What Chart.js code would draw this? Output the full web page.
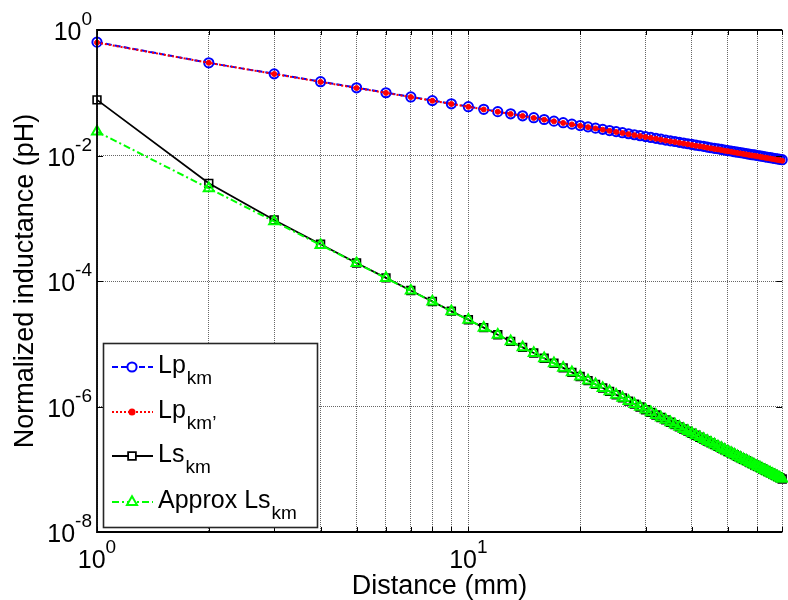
<!DOCTYPE html>
<html>
<head>
<meta charset="utf-8">
<script src="https://cdn.jsdelivr.net/npm/chart.js@4/dist/chart.umd.min.js"></script>
<style>
  html, body { margin: 0; padding: 0; background: #fff; overflow: hidden; }
  #wrap { width: 788px; height: 600px; overflow: hidden; }
</style>
</head>
<body>
<div id="wrap"><canvas id="chart" width="790" height="600"></canvas></div>
<script>
// distance in mm
const distances = [
  1, 2, 3, 4, 5, 6, 7, 8, 9, 10,
  11, 12, 13, 14, 15, 16, 17, 18, 19, 20,
  21, 22, 23, 24, 25, 26, 27, 28, 29, 30,
  31, 32, 33, 34, 35, 36, 37, 38, 39, 40,
  41, 42, 43, 44, 45, 46, 47, 48, 49, 50,
  51, 52, 53, 54, 55, 56, 57, 58, 59, 60,
  61, 62, 63, 64, 65, 66, 67, 68, 69, 70
]

// normalized inductance (pH)
const lpKm = [
  0.64, 0.30, 0.200, 0.150, 0.120, 0.100, 0.0857, 0.0750, 0.0667, 0.0600,
  0.0545, 0.0500, 0.0462, 0.0429, 0.0400, 0.0375, 0.0353, 0.0333, 0.0316, 0.0300,
  0.0286, 0.0273, 0.0261, 0.0250, 0.0240, 0.0231, 0.0222, 0.0214, 0.0207, 0.0200,
  0.0194, 0.0188, 0.0182, 0.0176, 0.0171, 0.0167, 0.0162, 0.0158, 0.0154, 0.0150,
  0.0146, 0.0143, 0.0140, 0.0136, 0.0133, 0.0130, 0.0128, 0.0125, 0.0122, 0.0120,
  0.0118, 0.0115, 0.0113, 0.0111, 0.0109, 0.0107, 0.0105, 0.0103, 0.0102, 0.0100,
  0.00984, 0.00968, 0.00952, 0.00938, 0.00923, 0.00909, 0.00896, 0.00882, 0.00870, 0.00857
]

const lpKmPrime = [
  0.63, 0.30, 0.199, 0.149, 0.119, 0.0995, 0.0853, 0.0746, 0.0663, 0.0597,
  0.0542, 0.0497, 0.0459, 0.0426, 0.0397, 0.0372, 0.0350, 0.0330, 0.0313, 0.0297,
  0.0283, 0.0270, 0.0258, 0.0247, 0.0237, 0.0228, 0.0219, 0.0211, 0.0204, 0.0197,
  0.0191, 0.0185, 0.0179, 0.0173, 0.0168, 0.0164, 0.0159, 0.0155, 0.0151, 0.0147,
  0.0143, 0.0140, 0.0137, 0.0133, 0.0130, 0.0127, 0.0125, 0.0122, 0.0119, 0.0117,
  0.0115, 0.0112, 0.0110, 0.0108, 0.0106, 0.0104, 0.0102, 0.0100, 0.00990, 0.00970,
  0.00953, 0.00937, 0.00921, 0.00907, 0.00892, 0.00878, 0.00865, 0.00851, 0.00839, 0.00826
]

const lsKm = [
  0.077, 0.0036, 9.4e-4, 3.85e-4, 1.94e-4, 1.12e-4, 7.05e-5, 4.72e-5, 3.31e-5, 2.41e-5,
  1.81e-5, 1.39e-5, 1.09e-5, 8.76e-6, 7.12e-6, 5.87e-6, 4.89e-6, 4.12e-6, 3.50e-6, 3.00e-6,
  2.59e-6, 2.25e-6, 1.97e-6, 1.74e-6, 1.54e-6, 1.37e-6, 1.22e-6, 1.09e-6, 9.84e-7, 8.89e-7,
  8.06e-7, 7.32e-7, 6.68e-7, 6.11e-7, 5.60e-7, 5.14e-7, 4.74e-7, 4.37e-7, 4.05e-7, 3.75e-7,
  3.48e-7, 3.24e-7, 3.02e-7, 2.82e-7, 2.63e-7, 2.47e-7, 2.31e-7, 2.17e-7, 2.04e-7, 1.92e-7,
  1.81e-7, 1.71e-7, 1.61e-7, 1.52e-7, 1.44e-7, 1.37e-7, 1.30e-7, 1.23e-7, 1.17e-7, 1.11e-7,
  1.06e-7, 1.01e-7, 9.60e-8, 9.16e-8, 8.74e-8, 8.35e-8, 7.98e-8, 7.63e-8, 7.31e-8, 7.00e-8
]

const approxLsKm = [
  0.024, 0.0030, 8.89e-4, 3.75e-4, 1.92e-4, 1.11e-4, 7.00e-5, 4.69e-5, 3.29e-5, 2.40e-5,
  1.80e-5, 1.39e-5, 1.09e-5, 8.75e-6, 7.11e-6, 5.86e-6, 4.89e-6, 4.12e-6, 3.50e-6, 3.00e-6,
  2.59e-6, 2.25e-6, 1.97e-6, 1.74e-6, 1.54e-6, 1.37e-6, 1.22e-6, 1.09e-6, 9.84e-7, 8.89e-7,
  8.06e-7, 7.32e-7, 6.68e-7, 6.11e-7, 5.60e-7, 5.14e-7, 4.74e-7, 4.37e-7, 4.05e-7, 3.75e-7,
  3.48e-7, 3.24e-7, 3.02e-7, 2.82e-7, 2.63e-7, 2.47e-7, 2.31e-7, 2.17e-7, 2.04e-7, 1.92e-7,
  1.81e-7, 1.71e-7, 1.61e-7, 1.52e-7, 1.44e-7, 1.37e-7, 1.30e-7, 1.23e-7, 1.17e-7, 1.11e-7,
  1.06e-7, 1.01e-7, 9.60e-8, 9.16e-8, 8.74e-8, 8.35e-8, 7.98e-8, 7.63e-8, 7.31e-8, 7.00e-8
]

// grid / tick positions and labelled decades
const xTicks = [1, 2, 3, 4, 5, 6, 7, 8, 9, 10, 20, 30, 40, 50, 60, 70]
const xLabelDecades = [0, 1]
const yTicks = [1e-8, 1e-6, 1e-4, 1e-2, 1]
const yLabelDecades = [0, -2, -4, -6, -8]

const legendItems = [
  { base: 'Lp', sub: 'km' },
  { base: 'Lp', sub: 'km\u2019' },
  { base: 'Ls', sub: 'km' },
  { base: 'Approx Ls', sub: 'km' },
]

const FONT = '"Liberation Sans", Arial, Helvetica, sans-serif'

const toPoints = vals => distances.map((d, i) => ({ x: d, y: vals[i] }))

const styles = [
  { color: '#0000ff', dash: [6, 3], width: 2, point: 'circle', radius: 4.6, fill: 'rgba(0,0,0,0)', pw: 2 },
  { color: '#ff0000', dash: [2, 2], width: 2, point: 'circle', radius: 2.5, fill: '#ff0000', pw: 1 },
  { color: '#000000', dash: [], width: 1.8, point: 'rect', radius: 5.5, fill: 'rgba(0,0,0,0)', pw: 1.6 },
  { color: '#00ff00', dash: [7, 3, 2, 3], width: 2, point: 'triangle', radius: 5.8, fill: 'rgba(0,0,0,0)', pw: 2 },
]

const seriesData = [lpKm, lpKmPrime, lsKm, approxLsKm]

function drawPowerLabel(ctx, exp, x, y, align) {
  const base = '10'
  const sup = String(exp)
  ctx.font = '25px ' + FONT
  const wb = ctx.measureText(base).width
  ctx.font = '19px ' + FONT
  const we = ctx.measureText(sup).width
  const start = align === 'right' ? x - wb - we : x - (wb + we) / 2
  ctx.font = '25px ' + FONT
  ctx.fillText(base, start, y)
  ctx.font = '19px ' + FONT
  ctx.fillText(sup, start + wb, y - 15)
}

function drawMarker(ctx, style, x, y) {
  Chart.helpers.drawPoint(ctx, {
    pointStyle: style.point,
    radius: style.radius,
    borderWidth: style.pw,
    rotation: 0,
  }, x, y)
}

const decorations = {
  id: 'decorations',
  afterDraw(chart) {
    const { ctx, chartArea: a, scales } = chart
    ctx.save()

    // frame and tick marks
    ctx.strokeStyle = '#000'
    ctx.lineWidth = 1.8
    ctx.setLineDash([])
    ctx.beginPath()
    ctx.moveTo(a.right, a.top); ctx.lineTo(a.left, a.top)
    ctx.lineTo(a.left, a.bottom); ctx.lineTo(a.right, a.bottom)
    ctx.stroke()
    ctx.lineWidth = 1
    ctx.beginPath()
    xTicks.forEach(v => {
      const px = Math.round(scales.x.getPixelForValue(v)) + 0.5
      ctx.moveTo(px, a.bottom); ctx.lineTo(px, a.bottom - 5)
      ctx.moveTo(px, a.top); ctx.lineTo(px, a.top + 5)
    })
    yTicks.forEach(v => {
      const py = Math.round(scales.y.getPixelForValue(v)) + 0.5
      ctx.moveTo(a.left, py); ctx.lineTo(a.left + 6, py)
      ctx.moveTo(a.right, py); ctx.lineTo(a.right - 6, py)
    })
    ctx.stroke()

    // tick labels
    ctx.fillStyle = '#000'
    ctx.textBaseline = 'alphabetic'
    ctx.textAlign = 'left'
    xLabelDecades.forEach(e => {
      drawPowerLabel(ctx, e, scales.x.getPixelForValue(Math.pow(10, e)), 568, 'center')
    })
    yLabelDecades.forEach(e => {
      drawPowerLabel(ctx, e, 92, scales.y.getPixelForValue(Math.pow(10, e)) + 10, 'right')
    })

    // axis titles
    ctx.font = '27px ' + FONT
    ctx.textAlign = 'center'
    ctx.fillText('Distance (mm)', (a.left + a.right) / 2, 594)
    ctx.save()
    ctx.translate(33, (a.top + a.bottom) / 2)
    ctx.rotate(-Math.PI / 2)
    ctx.fillText('Normalized inductance (pH)', 0, 0)
    ctx.restore()

    // legend
    const box = { left: 103.5, top: 343.5, right: 317.5, bottom: 527.5 }
    ctx.fillStyle = '#fff'
    ctx.fillRect(box.left, box.top, box.right - box.left, box.bottom - box.top)
    ctx.strokeStyle = '#262626'
    ctx.lineWidth = 1.6
    ctx.strokeRect(box.left, box.top, box.right - box.left, box.bottom - box.top)
    const rows = [367, 412, 456, 502]
    legendItems.forEach((item, i) => {
      const s = styles[i]
      const y = rows[i]
      ctx.strokeStyle = s.color
      ctx.lineWidth = s.width
      ctx.setLineDash(s.dash)
      ctx.beginPath()
      ctx.moveTo(112, y); ctx.lineTo(153, y)
      ctx.stroke()
      ctx.setLineDash([])
      ctx.fillStyle = s.fill === '#ff0000' ? s.color : '#fff'
      drawMarker(ctx, s, 132, y)
      ctx.fillStyle = '#000'
      ctx.textAlign = 'left'
      ctx.font = '25px ' + FONT
      ctx.fillText(item.base, 158, y + 6)
      const w = ctx.measureText(item.base).width
      ctx.font = '19px ' + FONT
      ctx.fillText(item.sub, 158 + w + 1, y + 17)
    })

    ctx.restore()
  }
}

new Chart(document.getElementById('chart'), {
  type: 'line',
  data: {
    datasets: seriesData.map((vals, i) => ({
      data: toPoints(vals),
      borderColor: styles[i].color,
      borderWidth: styles[i].width,
      borderDash: styles[i].dash,
      pointStyle: styles[i].point,
      pointRadius: styles[i].radius,
      pointBorderWidth: styles[i].pw,
      pointBorderColor: styles[i].color,
      pointBackgroundColor: styles[i].fill,
      fill: false,
      tension: 0,
      clip: false,
      order: 4 - i,
    }))
  },
  options: {
    responsive: false,
    animation: false,
    events: [],
    layout: { padding: { left: 97, top: 30, right: 1, bottom: 68 } },
    plugins: { legend: { display: false }, tooltip: { enabled: false } },
    scales: {
      x: {
        type: 'logarithmic',
        min: 1,
        max: 70,
        afterBuildTicks: axis => { axis.ticks = xTicks.map(v => ({ value: v })) },
        ticks: { display: false },
        grid: { color: 'rgba(0,0,0,0.6)', lineWidth: 1, drawTicks: false },
        border: { display: false, dash: [1, 1] },
      },
      y: {
        type: 'logarithmic',
        min: 1e-8,
        max: 1,
        afterBuildTicks: axis => { axis.ticks = yTicks.map(v => ({ value: v })) },
        ticks: { display: false },
        grid: { color: 'rgba(0,0,0,0.6)', lineWidth: 1, drawTicks: false },
        border: { display: false, dash: [1, 1] },
      }
    }
  },
  plugins: [decorations]
})
</script>
</body>
</html>
